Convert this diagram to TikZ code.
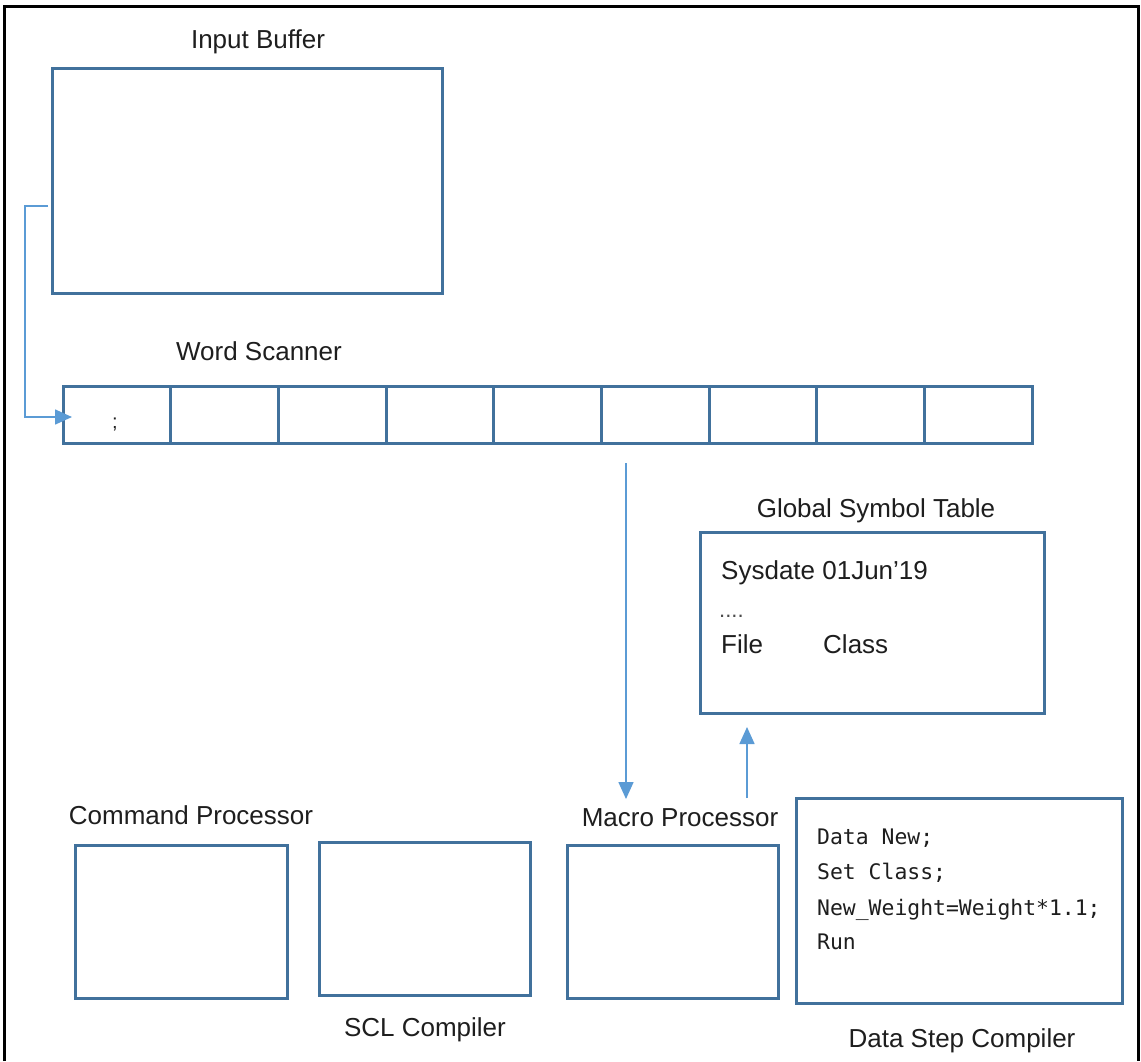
\documentclass[tikz,border=0pt]{standalone}
\usepackage{fontspec}
\setmainfont{Liberation Sans}
\newfontfamily\codefont{DejaVu Sans Mono}
\usetikzlibrary{arrows.meta}
\definecolor{boxblue}{RGB}{65,113,156}
\definecolor{arrowblue}{RGB}{91,155,213}
\definecolor{txt}{RGB}{30,30,30}
\begin{document}
\begin{tikzpicture}[x=1pt,y=-1pt,
  box/.style={draw=boxblue,line width=3pt,inner sep=0pt,outer sep=0pt},
  lbl/.style={anchor=base,inner sep=0pt,text=txt,font=\fontsize{26}{30}\selectfont},
  ltxt/.style={anchor=base west,inner sep=0pt,text=txt,font=\fontsize{26}{30}\selectfont},
  code/.style={anchor=base west,inner sep=0pt,text=txt,font=\codefont\fontsize{21.4}{25}\selectfont},
  flow/.style={draw=arrowblue,line width=1.6pt,-{Triangle[length=17pt,width=15pt]}}]
\useasboundingbox (0,0) rectangle (1141,1061);
\fill[white] (0,0) rectangle (1141,1061);
% outer frame, open at the bottom
\draw[black,line width=3pt] (4.5,1061) -- (4.5,6) -- (1138.5,6) -- (1138.5,1061);

% input buffer
\node[lbl] (iblab) at (258,48) {Input Buffer};
\node[box,minimum width=390pt,minimum height=225pt] (ib) at (247,180.5) {};

% word scanner cells
\node[lbl] (wslab) at (259,360) {Word Scanner};
\foreach \i in {1,...,9}{
  \node[box,minimum width=107.67pt,minimum height=57pt] (c\i) at ({63+107.67*(\i-0.5)},414.5) {};
}
\node[inner sep=0pt,text=txt,font=\fontsize{20}{22}\selectfont] (semi) at (115,424) {;};

% global symbol table
\node[lbl] (gstlab) at (876,517) {Global Symbol Table};
\node[box,minimum width=344pt,minimum height=181pt] (gst) at (872,622.5) {};
\node[ltxt] (sys) at (721,579) {Sysdate 01Jun’19};
\node[anchor=base west,inner sep=0pt,text=txt!80,font=\fontsize{22}{26}\selectfont] (dots) at (719,617) {....};
\node[ltxt] (file) at (721,653) {File};
\node[ltxt] (cls) at (823,653) {Class};

% processors and compilers
\node[lbl] (cmdlab) at (191,824) {Command Processor};
\node[box,minimum width=212pt,minimum height=153pt] (cmd) at (181,921.5) {};
\node[box,minimum width=211pt,minimum height=153pt] (scl) at (424.5,918.5) {};
\node[lbl] (scllab) at (425,1036) {SCL Compiler};
\node[lbl] (maclab) at (680,826) {Macro Processor};
\node[box,minimum width=211pt,minimum height=153pt] (mac) at (672.5,921.5) {};
\node[box,minimum width=326pt,minimum height=205pt] (dsc) at (959,900.5) {};
\node[lbl] (dsclab) at (962,1047) {Data Step Compiler};
\node[code] (l1) at (817,844) {Data New;};
\node[code] (l2) at (817,879) {Set Class;};
\node[code] (l3) at (817,915) {New\_Weight=Weight*1.1;};
\node[code] (l4) at (817,949) {Run};

% connectors
\coordinate (ibout) at ([xshift=-4pt]ib.west |- 0,206);
\coordinate (bend1) at (25,206);
\coordinate (bend2) at (25,417);
\coordinate (cin) at (72,417);
\draw[flow] (ibout) -- (bend1) -- (bend2) -- (cin);

\coordinate (wsout) at (626,463);
\coordinate (macin) at (626,799);
\draw[flow] (wsout) -- (macin);

\coordinate (macout) at (747,798);
\coordinate (gstin) at (747,727);
\draw[flow] (macout) -- (gstin);
\end{tikzpicture}
\end{document}
